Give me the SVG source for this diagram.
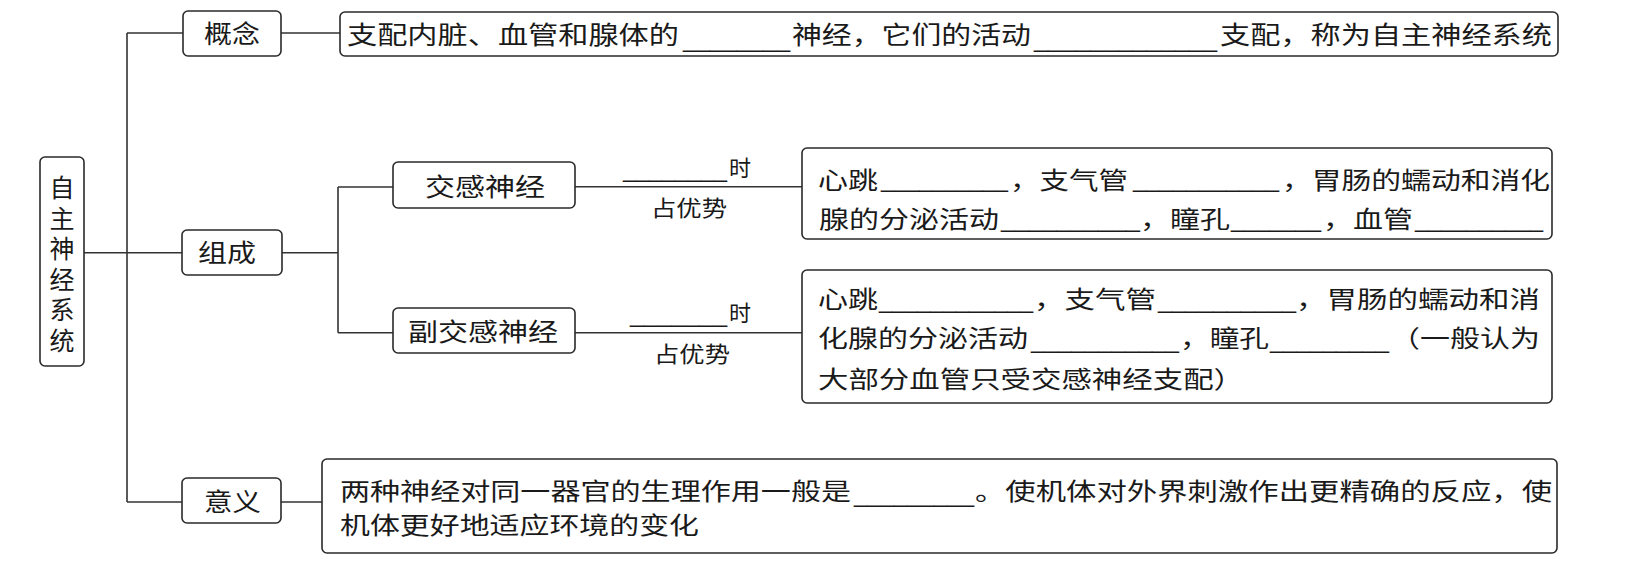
<svg xmlns="http://www.w3.org/2000/svg" width="1630" height="572" viewBox="0 0 1630 572">
<style>
.box{fill:#fff;stroke:#2a2a2a;stroke-width:1.6}
.conn{stroke:#333;stroke-width:1.6;fill:none}
.t{font-family:"Noto Sans CJK SC","Noto Sans",sans-serif;font-size:24px;fill:#1a1a1a}
.l{font-family:"Noto Sans CJK SC","Noto Sans",sans-serif;font-size:25px;fill:#1a1a1a}
.s{font-family:"Noto Sans CJK SC","Noto Sans",sans-serif;font-size:22px;fill:#1a1a1a}
.u{font-family:"Liberation Sans",sans-serif;font-size:24px;fill:#1a1a1a}
.v{writing-mode:vertical-rl;letter-spacing:5.6px}
</style>
<rect width="1630" height="572" fill="#fff"/>
<g id="connectors">
<path class="conn" d="M127,33 V502 M127,33 H183 M281,33 H340 M84,252.7 H182 M282,252.7 H338 M338,187 V332.7 M338,187 H393 M338,332.7 H393 M575,186.7 H802 M575,332.7 H802 M127,502 H182 M281,502 H322"/>
</g>
<g id="root">
<rect class="box" x="40" y="157" width="44" height="209" rx="5"/>
<text class="l v" x="62" y="175">自主神经系统</text>
</g>
<g id="concept">
<rect class="box" x="183" y="11" width="98" height="45" rx="5"/>
<text class="l" x="204" y="43" textLength="56" lengthAdjust="spacingAndGlyphs">概念</text>
</g>
<g id="concept-text">
<rect class="box" x="340" y="12" width="1218" height="44" rx="5"/>
<text class="l" x="347" y="44" textLength="332" lengthAdjust="spacingAndGlyphs">支配内脏、血管和腺体的</text>
<text class="u" x="683" y="47" textLength="107" lengthAdjust="spacingAndGlyphs">________</text>
<text class="l" x="792" y="44" textLength="239" lengthAdjust="spacingAndGlyphs">神经，它们的活动</text>
<text class="u" x="1034" y="47" textLength="183" lengthAdjust="spacingAndGlyphs">_____________</text>
<text class="l" x="1220" y="44" textLength="332" lengthAdjust="spacingAndGlyphs">支配，称为自主神经系统</text>
</g>
<g id="composition">
<rect class="box" x="182" y="230" width="100" height="45" rx="5"/>
<text class="l" x="198" y="262" textLength="58" lengthAdjust="spacingAndGlyphs">组成</text>
</g>
<g id="sympathetic">
<rect class="box" x="393" y="162" width="182" height="46" rx="5"/>
<text class="l" x="425" y="196" textLength="120" lengthAdjust="spacingAndGlyphs">交感神经</text>
</g>
<g id="sympathetic-label">
<text class="u" x="623" y="177" textLength="104" lengthAdjust="spacingAndGlyphs">________</text>
<text class="s" x="729" y="176">时</text>
<text class="s" x="651" y="215.5" textLength="76" lengthAdjust="spacingAndGlyphs">占优势</text>
</g>
<g id="sympathetic-effects">
<rect class="box" x="802" y="148" width="750" height="91" rx="5"/>
<text class="t" x="818" y="188.5" textLength="60" lengthAdjust="spacingAndGlyphs">心跳</text>
<text class="u" x="881" y="186.5" textLength="127" lengthAdjust="spacingAndGlyphs">__________</text>
<text class="t" x="1010" y="188.5" textLength="118" lengthAdjust="spacingAndGlyphs">，支气管</text>
<text class="u" x="1133" y="186.5" textLength="146" lengthAdjust="spacingAndGlyphs">___________</text>
<text class="t" x="1282" y="188.5" textLength="268" lengthAdjust="spacingAndGlyphs">，胃肠的蠕动和消化</text>
<text class="t" x="819" y="228" textLength="180" lengthAdjust="spacingAndGlyphs">腺的分泌活动</text>
<text class="u" x="1001" y="226.5" textLength="139" lengthAdjust="spacingAndGlyphs">__________</text>
<text class="t" x="1140" y="228" textLength="90" lengthAdjust="spacingAndGlyphs">，瞳孔</text>
<text class="u" x="1231" y="226.5" textLength="90" lengthAdjust="spacingAndGlyphs">_______</text>
<text class="t" x="1323" y="228" textLength="90" lengthAdjust="spacingAndGlyphs">，血管</text>
<text class="u" x="1415" y="226.5" textLength="128" lengthAdjust="spacingAndGlyphs">__________</text>
</g>
<g id="parasympathetic">
<rect class="box" x="393" y="308" width="182" height="45" rx="5"/>
<text class="l" x="408" y="341" textLength="150" lengthAdjust="spacingAndGlyphs">副交感神经</text>
</g>
<g id="parasympathetic-label">
<text class="u" x="630" y="321.5" textLength="97" lengthAdjust="spacingAndGlyphs">_______</text>
<text class="s" x="729" y="321">时</text>
<text class="s" x="654" y="361.5" textLength="76" lengthAdjust="spacingAndGlyphs">占优势</text>
</g>
<g id="parasympathetic-effects">
<rect class="box" x="802" y="270" width="750" height="133" rx="5"/>
<text class="t" x="818" y="308" textLength="60" lengthAdjust="spacingAndGlyphs">心跳</text>
<text class="u" x="879" y="308" textLength="154" lengthAdjust="spacingAndGlyphs">____________</text>
<text class="t" x="1034" y="308" textLength="122" lengthAdjust="spacingAndGlyphs">，支气管</text>
<text class="u" x="1158" y="308" textLength="138" lengthAdjust="spacingAndGlyphs">__________</text>
<text class="t" x="1296" y="308" textLength="244" lengthAdjust="spacingAndGlyphs">，胃肠的蠕动和消</text>
<text class="t" x="818" y="347" textLength="210" lengthAdjust="spacingAndGlyphs">化腺的分泌活动</text>
<text class="u" x="1031" y="348" textLength="148" lengthAdjust="spacingAndGlyphs">___________</text>
<text class="t" x="1180" y="347" textLength="89" lengthAdjust="spacingAndGlyphs">，瞳孔</text>
<text class="u" x="1270" y="348" textLength="119" lengthAdjust="spacingAndGlyphs">_________</text>
<text class="t" x="1390" y="347" textLength="150" lengthAdjust="spacingAndGlyphs">（一般认为</text>
<text class="t" x="818" y="388" textLength="426" lengthAdjust="spacingAndGlyphs">大部分血管只受交感神经支配）</text>
</g>
<g id="significance">
<rect class="box" x="182" y="478" width="99" height="45" rx="5"/>
<text class="l" x="204" y="511" textLength="57" lengthAdjust="spacingAndGlyphs">意义</text>
</g>
<g id="significance-text">
<rect class="box" x="322" y="459" width="1235" height="94" rx="5"/>
<text class="t" x="340" y="500" textLength="511" lengthAdjust="spacingAndGlyphs">两种神经对同一器官的生理作用一般是</text>
<text class="u" x="854" y="501.5" textLength="120" lengthAdjust="spacingAndGlyphs">_________</text>
<text class="t" x="975" y="500" textLength="577" lengthAdjust="spacingAndGlyphs">。使机体对外界刺激作出更精确的反应，使</text>
<text class="t" x="340" y="534" textLength="359" lengthAdjust="spacingAndGlyphs">机体更好地适应环境的变化</text>
</g>
</svg>
